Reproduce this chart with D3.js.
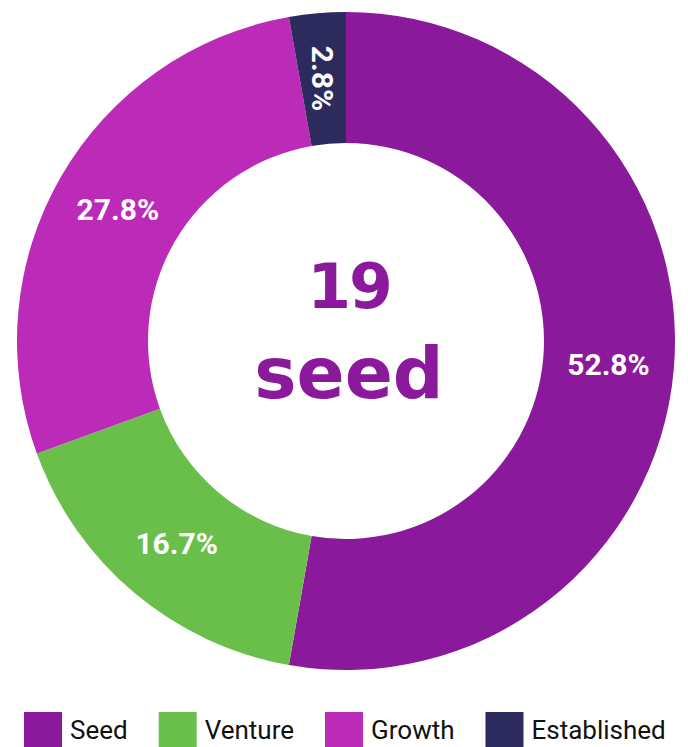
<!DOCTYPE html>
<html>
<head>
<meta charset="utf-8">
<script src="https://cdn.jsdelivr.net/npm/d3@7"></script>
<style>
  body { margin: 0; background: #fff; }
</style>
</head>
<body>
<script>
var w = 688;
var h = 747;

// data
var categories = ["Seed", "Venture", "Growth", "Established"];
var counts = [19, 6, 10, 1];
var colors = ["#8A1A9B", "#6ABF4B", "#BB2BB8", "#2D2B5E"];
var centerValue = "19";
var centerLabel = "seed";

var cx = 346, cy = 341;
var outerR = 329, innerR = 198;
var total = d3.sum(counts);

var svg = d3.select("body").append("svg")
    .attr("width", w)
    .attr("height", h);

var pie = d3.pie().sort(null).value(function(d) { return d; });
var arc = d3.arc().innerRadius(innerR).outerRadius(outerR);
var labelArc = d3.arc().innerRadius((innerR + outerR) / 2).outerRadius((innerR + outerR) / 2);

var color = d3.scaleOrdinal().domain(categories).range(colors);

var g = svg.append("g").attr("transform", "translate(" + cx + "," + cy + ")");

var arcs = pie(counts);

g.selectAll("path")
    .data(arcs)
    .enter()
    .append("path")
    .attr("d", arc)
    .attr("fill", function(d, i) { return color(categories[i]); });

//slice labels
g.selectAll("text.lbl")
    .data(arcs)
    .enter()
    .append("text")
    .attr("class", "lbl")
    .attr("transform", function(d) {
        var c = labelArc.centroid(d);
        var small = (d.endAngle - d.startAngle) < 0.3;
        return "translate(" + c[0] + "," + c[1] + ")" + (small ? " rotate(90)" : "");
    })
    .attr("text-anchor", "middle")
    .attr("dy", "0.36em")
    .attr("font-family", "Roboto, sans-serif")
    .attr("font-weight", "bold")
    .attr("font-size", "30px")
    .attr("fill", "#fff")
    .text(function(d) { return (d.value / total * 100).toFixed(1) + "%"; });

//center text
g.append("text")
    .attr("x", 3)
    .attr("y", -33)
    .attr("text-anchor", "middle")
    .attr("font-family", "'DejaVu Sans', sans-serif")
    .attr("font-weight", "bold")
    .attr("font-size", "63px")
    .attr("letter-spacing", "-2px")
    .attr("fill", colors[0])
    .text(centerValue);

g.append("text")
    .attr("x", 3)
    .attr("y", 57)
    .attr("text-anchor", "middle")
    .attr("font-family", "'DejaVu Sans', sans-serif")
    .attr("font-weight", "bold")
    .attr("font-size", "71px")
    .attr("fill", colors[0])
    .text(centerLabel);

//legend
var legend = svg.append("g").attr("transform", "translate(0,712)");
var xPos = 24;
categories.forEach(function(c, i) {
    var item = legend.append("g").attr("transform", "translate(" + xPos + ",0)");
    item.append("rect")
        .attr("width", 38)
        .attr("height", 38)
        .attr("fill", colors[i]);
    var t = item.append("text")
        .attr("x", 46)
        .attr("y", 27)
        .attr("font-family", "Roboto, sans-serif")
        .attr("font-size", "26px")
        .attr("fill", "#111")
        .text(c);
    xPos += 46 + t.node().getComputedTextLength() + 31;
});
</script>
</body>
</html>
